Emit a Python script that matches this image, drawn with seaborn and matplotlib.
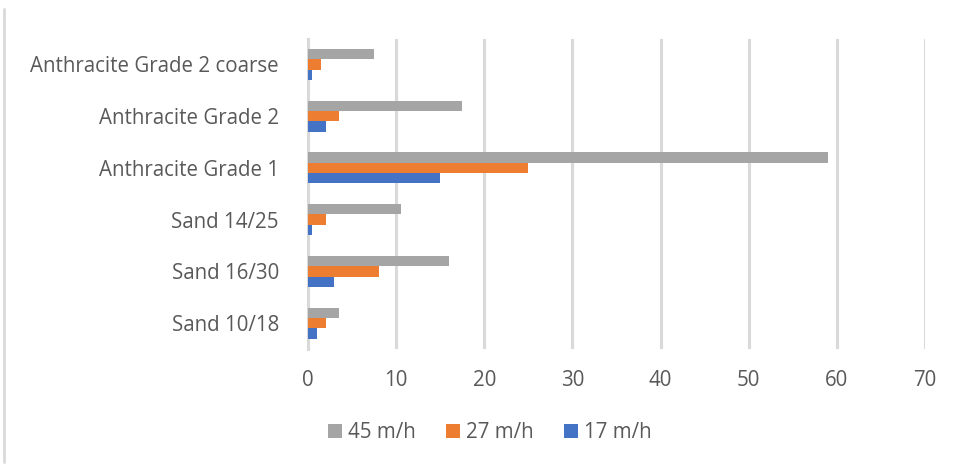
import matplotlib
matplotlib.use("Agg")
import matplotlib.pyplot as plt
import seaborn as sns
import pandas as pd
from matplotlib.lines import Line2D

# Media types (top to bottom) and flow-rate series
media = ["Anthracite Grade 2 coarse", "Anthracite Grade 2", "Anthracite Grade 1",
         "Sand 14/25", "Sand 16/30", "Sand 10/18"]
rate_45 = [7.5, 17.5, 59, 10.5, 16, 3.5]
rate_27 = [1.5, 3.5, 25, 2, 8, 2]
rate_17 = [0.5, 2, 15, 0.5, 3, 1]
series_names = ["45 m/h", "27 m/h", "17 m/h"]
x_ticks = [0, 10, 20, 30, 40, 50, 60, 70]

df = pd.DataFrame({
    "media": media * 3,
    "value": rate_45 + rate_27 + rate_17,
    "rate": [series_names[0]] * 6 + [series_names[1]] * 6 + [series_names[2]] * 6,
})

sns.set_theme(style="white")
plt.rcParams["font.family"] = ["Open Sans", "DejaVu Sans"]

palette = {"45 m/h": "#A5A5A5", "27 m/h": "#ED7D31", "17 m/h": "#4472C4"}
text_color = "#595959"
grid_color = "#D9D9D9"

fig = plt.figure(figsize=(9.56, 4.67), dpi=100)
ax = fig.add_axes([308 / 956, 1 - 349 / 467, (925 - 308) / 956, (349 - 38.6) / 467])

sns.barplot(data=df, y="media", x="value", hue="rate", order=media,
            hue_order=series_names, palette=palette, orient="h",
            width=0.6, gap=0, saturation=1, linewidth=0, ax=ax, legend=True)
for bar in ax.patches:
    bar.set_zorder(3)

ax.set_xlim(0, 70)
ax.set_xticks(x_ticks)
ax.set_xlabel("")
ax.set_ylabel("")
ax.xaxis.grid(True, color=grid_color, linewidth=2.2)
ax.set_axisbelow(True)
for s in ["top", "right", "bottom"]:
    ax.spines[s].set_visible(False)
ax.spines["left"].set_color(grid_color)
ax.spines["left"].set_linewidth(2.2)
ax.spines["left"].set_zorder(1)
ax.tick_params(axis="both", length=0, labelsize=14.8, colors=text_color)
ax.tick_params(axis="y", pad=21)
ax.tick_params(axis="x", pad=15)

handles, labels = ax.get_legend_handles_labels()
ax.get_legend().remove()
fig.legend(handles, labels, loc="center", bbox_to_anchor=(490 / 956, 1 - 433 / 467),
           ncol=3, frameon=False, fontsize=14.8, labelcolor=text_color,
           handlelength=0.65, handleheight=0.65, handletextpad=0.3, columnspacing=1.5)

# Left border of the chart frame
fig.add_artist(Line2D([4 / 956, 4 / 956], [1 - 462 / 467, 1 - 9 / 467],
                      transform=fig.transFigure, color=grid_color, linewidth=2))

fig.savefig("out.png", dpi=100)
